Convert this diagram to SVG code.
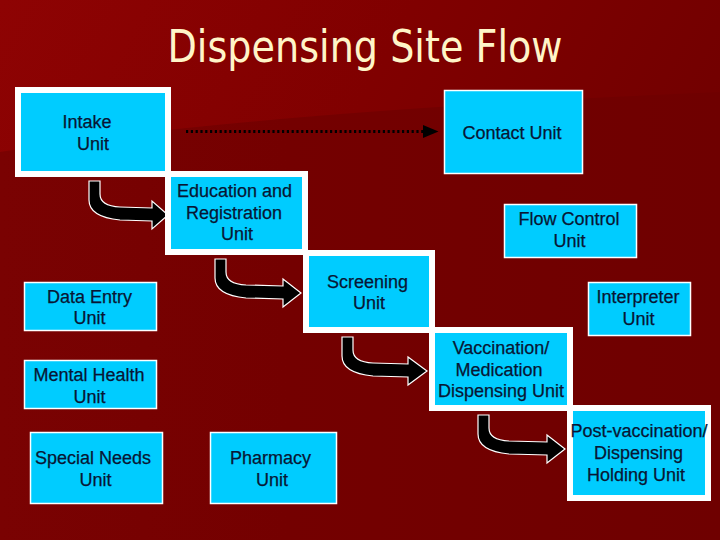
<svg xmlns="http://www.w3.org/2000/svg" width="720" height="540" viewBox="0 0 720 540">
<defs>
<linearGradient id="bgTop" x1="0" y1="0" x2="1" y2="0.4">
<stop offset="0" stop-color="#8e0303"/>
<stop offset="0.5" stop-color="#800000"/>
<stop offset="1" stop-color="#700000"/>
</linearGradient>
<linearGradient id="bgLow" x1="0" y1="0" x2="1" y2="0">
<stop offset="0" stop-color="#7a0202"/>
<stop offset="0.4" stop-color="#740000"/>
<stop offset="1" stop-color="#6f0000"/>
</linearGradient>
</defs>
<style>
.thick{fill:#00ccff;stroke:#ffffff;stroke-width:6}
.thin{fill:#00ccff;stroke:#ffffff;stroke-width:1.5}
.lbl{font-family:"Liberation Sans",Arial,sans-serif;font-size:18px;fill:#081634;stroke:#081634;stroke-width:0.25;text-anchor:middle}
.bend{fill:#000;stroke:#fff;stroke-width:1.2;stroke-linejoin:miter}
.dots{fill:none;stroke:#000;stroke-width:3;stroke-dasharray:2.2 2.6}
</style>
<rect x="0" y="0" width="720" height="540" fill="url(#bgTop)"/>
<path d="M0,152 Q250,112 720,92 L720,540 L0,540 Z" fill="url(#bgLow)"/>
<text x="365" y="62" font-family="'DejaVu Sans Condensed','DejaVu Sans',Tahoma,sans-serif" font-size="44" fill="#fff5c8" text-anchor="middle" textLength="395" lengthAdjust="spacingAndGlyphs">Dispensing Site Flow</text>

<g id="connectors">
<path class="dots" d="M186,131.5 H426"/>
<path d="M423,125 L438.5,131.5 L423,138 Z" fill="#000"/>
<path class="bend" d="M89,181 H100 V194 Q100,206 120,207 L152,208 V201 L168,215 L152,229 V221 L120,220 Q89,217 89,200 Z"/>
<path class="bend" d="M215,259 H226 V272 Q226,284 246,285 L283,286 V279 L301,293 L283,307 V299 L246,298 Q215,295 215,278 Z"/>
<path class="bend" d="M342,337 H353 V350 Q353,362 373,363 L408,364 V357 L427,371 L408,385 V377 L373,376 Q342,373 342,356 Z"/>
<path class="bend" d="M478,415 H489 V428 Q489,440 509,441 L547,442 V435 L565,449 L547,463 V455 L509,454 Q478,451 478,434 Z"/>
</g>

<g id="intake">
<rect class="thick" x="18" y="90" width="150" height="84"/>
<text class="lbl" x="87" y="128">Intake</text>
<text class="lbl" x="93" y="150">Unit</text>
</g>
<g id="education">
<rect class="thick" x="168" y="174" width="137" height="78"/>
<text class="lbl" x="234.5" y="197">Education and</text>
<text class="lbl" x="234" y="218.5">Registration</text>
<text class="lbl" x="237" y="240">Unit</text>
</g>
<g id="screening">
<rect class="thick" x="306" y="253" width="126" height="77"/>
<text class="lbl" x="367.5" y="288">Screening</text>
<text class="lbl" x="369" y="309">Unit</text>
</g>
<g id="vaccination">
<rect class="thick" x="432" y="330" width="138" height="78"/>
<text class="lbl" x="501" y="354">Vaccination/</text>
<text class="lbl" x="499" y="375.5">Medication</text>
<text class="lbl" x="501" y="397">Dispensing Unit</text>
</g>
<g id="postvaccination">
<rect class="thick" x="570" y="408" width="138" height="90"/>
<text class="lbl" x="639" y="437">Post-vaccination/</text>
<text class="lbl" x="638.5" y="459">Dispensing</text>
<text class="lbl" x="636" y="480.5">Holding Unit</text>
</g>
<g id="contact">
<rect class="thin" x="444.5" y="90.5" width="138" height="83"/>
<text class="lbl" x="512" y="139">Contact Unit</text>
</g>
<g id="flowcontrol">
<rect class="thin" x="504.5" y="204.5" width="132" height="53"/>
<text class="lbl" x="569" y="225">Flow Control</text>
<text class="lbl" x="569.5" y="246.5">Unit</text>
</g>
<g id="interpreter">
<rect class="thin" x="588.5" y="282.5" width="102" height="53"/>
<text class="lbl" x="638" y="303">Interpreter</text>
<text class="lbl" x="638.5" y="324.5">Unit</text>
</g>
<g id="dataentry">
<rect class="thin" x="24.5" y="282.5" width="132" height="48"/>
<text class="lbl" x="89.5" y="302.5">Data Entry</text>
<text class="lbl" x="89.5" y="324">Unit</text>
</g>
<g id="mentalhealth">
<rect class="thin" x="24.5" y="360.5" width="132" height="48"/>
<text class="lbl" x="89" y="381">Mental Health</text>
<text class="lbl" x="89.5" y="402.5">Unit</text>
</g>
<g id="specialneeds">
<rect class="thin" x="30.5" y="432.5" width="132" height="71"/>
<text class="lbl" x="93" y="464">Special Needs</text>
<text class="lbl" x="95.5" y="486">Unit</text>
</g>
<g id="pharmacy">
<rect class="thin" x="210.5" y="432.5" width="126" height="71"/>
<text class="lbl" x="270.5" y="464">Pharmacy</text>
<text class="lbl" x="272" y="486">Unit</text>
</g>
</svg>
